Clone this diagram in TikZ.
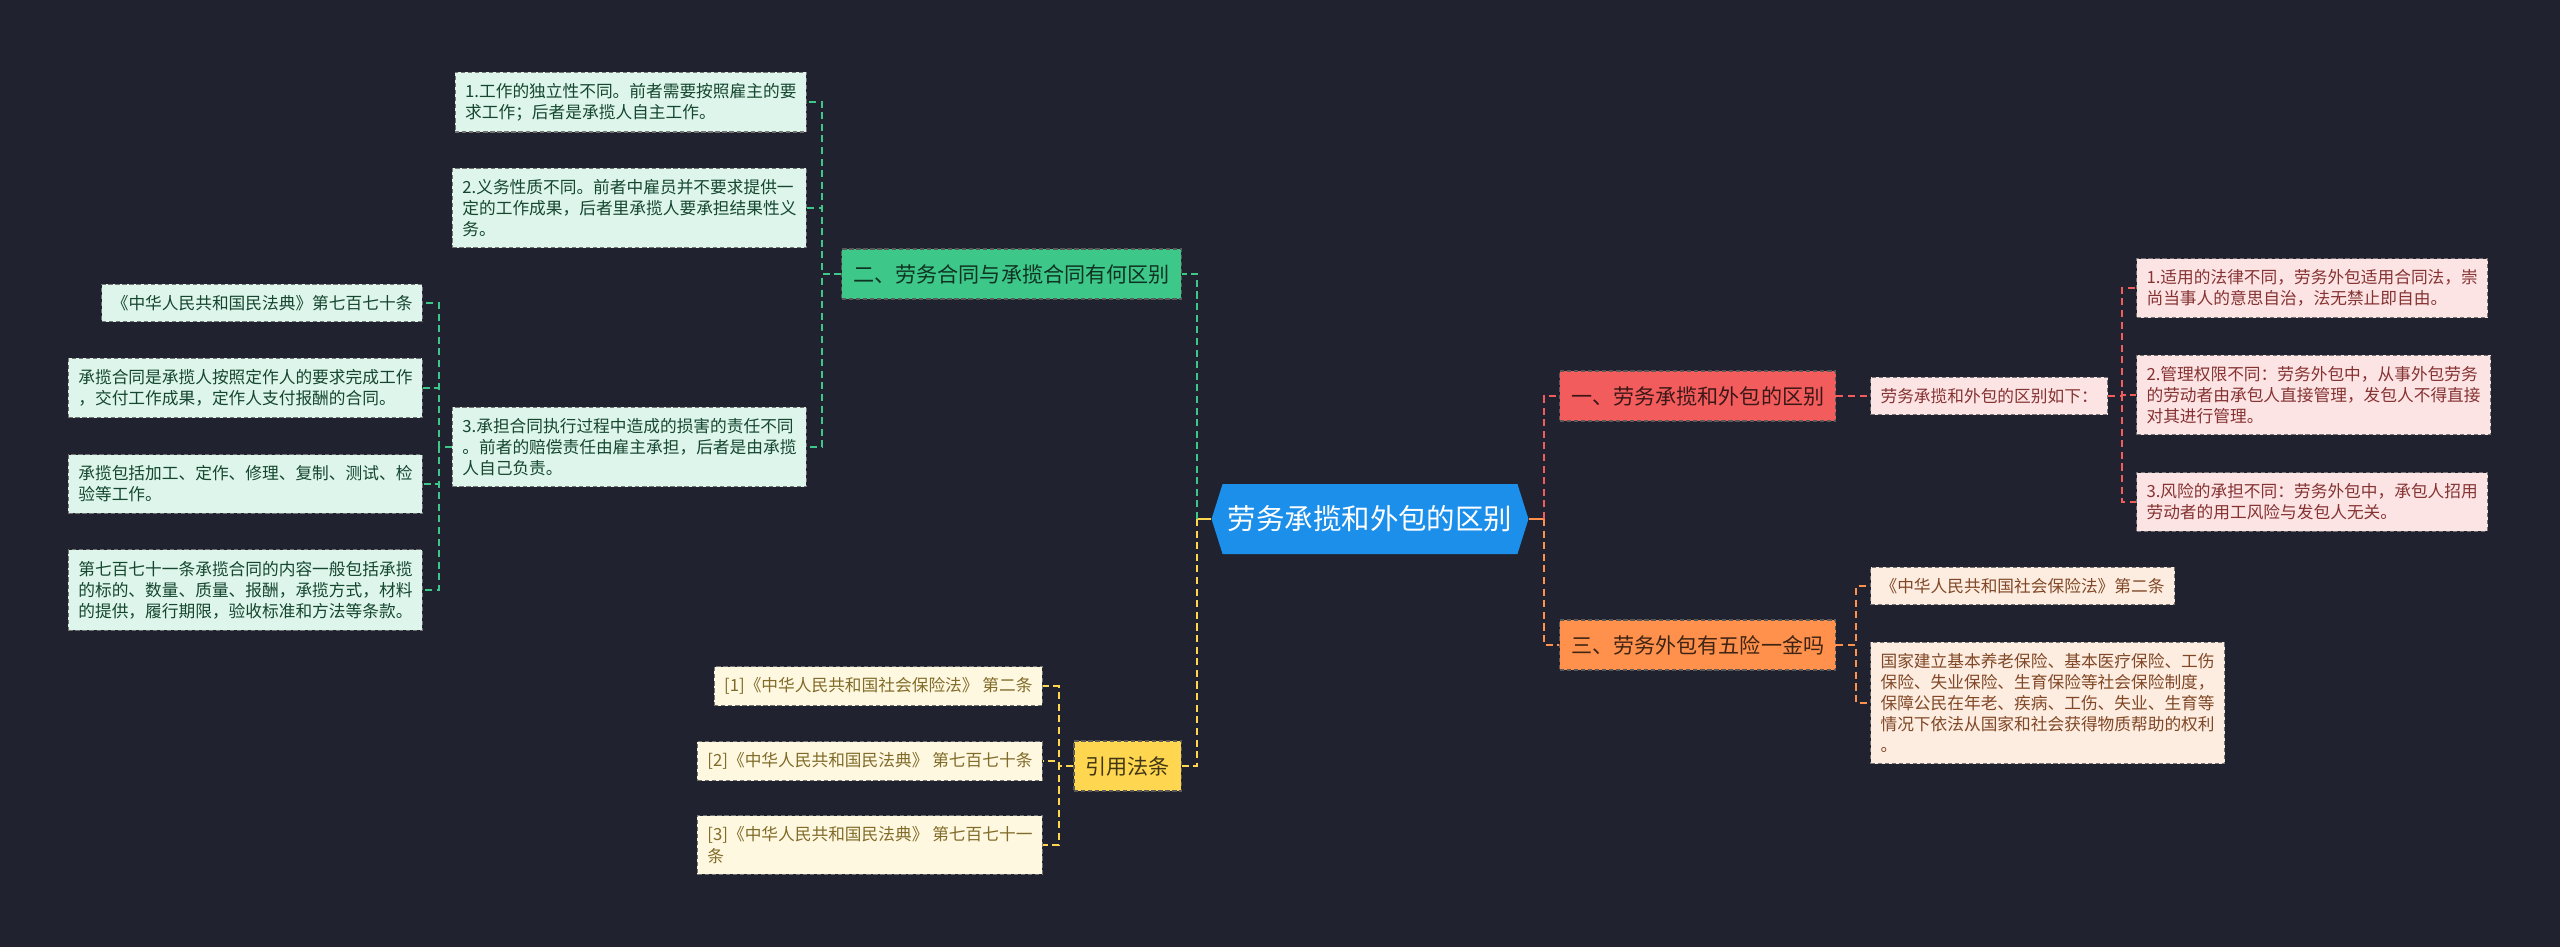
\documentclass[tikz,border=0pt]{standalone}
\usepackage{fontspec}
\setmainfont{Noto Sans CJK SC}
\usetikzlibrary{shapes.symbols}
\definecolor{MAP-BG}{RGB}{32, 35, 47}
\definecolor{MAP-BLUE}{RGB}{27, 143, 234}
\definecolor{MAP-GREEN}{RGB}{61, 199, 137}
\definecolor{MAP-RED}{RGB}{242, 92, 92}
\definecolor{MAP-ORANGE}{RGB}{255, 145, 77}
\definecolor{MAP-YELLOW}{RGB}{255, 214, 80}
\definecolor{MAP-GREEN-L}{RGB}{221, 245, 234}
\definecolor{MAP-RED-L}{RGB}{253, 228, 228}
\definecolor{MAP-ORANGE-L}{RGB}{253, 236, 224}
\definecolor{MAP-YELLOW-L}{RGB}{255, 248, 225}

\begin{document}
\begin{tikzpicture}[x=0.01cm, y=-0.01cm,
  link/.style={line width=0.55pt, dash pattern=on 2pt off 1.3pt},
  root/.style={signal, signal to=west and east, signal pointer angle=145,
    fill=MAP-BLUE, text=white, inner xsep=0.05cm, minimum height=0.7cm,
    font=\fontsize{8.1}{10}\selectfont},
  topic/.style={draw=black!65, line width=0.35pt, dash pattern=on 1.2pt off 0.8pt,
    inner xsep=0.115cm, minimum height=0.5cm, font=\fontsize{6.0}{8}\selectfont},
  leaf/.style={draw=black!55, line width=0.3pt, dash pattern=on 1.2pt off 0.8pt,
    align=left, inner xsep=0.1cm, inner ysep=0.11cm, font=\fontsize{4.75}{6}\selectfont},
  gleaf/.style={leaf, fill=MAP-GREEN-L, text=MAP-GREEN!35!black},
  rleaf/.style={leaf, fill=MAP-RED-L, text=MAP-RED!55!black},
  oleaf/.style={leaf, fill=MAP-ORANGE-L, text=MAP-ORANGE!50!black},
  yleaf/.style={leaf, fill=MAP-YELLOW-L, text=MAP-YELLOW!50!black},
]
  \fill[MAP-BG] (0,0) rectangle (2560,947);
  \useasboundingbox (0,0) rectangle (2560,947);

  % Centre
  \node[root] (root) at (1370,519) {劳务承揽和外包的区别};
  \coordinate (tL) at (1197,519);
  \coordinate (tR) at (1544,519);

  % Branch two (green)
  \node[topic, anchor=east, fill=MAP-GREEN, text=MAP-GREEN!25!black] (two) at (1182,274) {二、劳务合同与承揽合同有何区别};
  \coordinate (t2) at (822,274);
  \node[gleaf, anchor=east] (c1) at (807,102) {1.工作的独立性不同。前者需要按照雇主的要\\求工作；后者是承揽人自主工作。};
  \node[gleaf, anchor=east] (c2) at (807,208) {2.义务性质不同。前者中雇员并不要求提供一\\定的工作成果，后者里承揽人要承担结果性义\\务。};
  \node[gleaf, anchor=east] (c3) at (807,447) {3.承担合同执行过程中造成的损害的责任不同\\。前者的赔偿责任由雇主承担，后者是由承揽\\人自己负责。};
  \coordinate (t3) at (439,447);
  \node[gleaf, anchor=east] (d1) at (423,303) {《中华人民共和国民法典》第七百七十条};
  \node[gleaf, anchor=east] (d2) at (423,388) {承揽合同是承揽人按照定作人的要求完成工作\\，交付工作成果，定作人支付报酬的合同。};
  \node[gleaf, anchor=east] (d3) at (423,484) {承揽包括加工、定作、修理、复制、测试、检\\验等工作。};
  \node[gleaf, anchor=east] (d4) at (423,590) {第七百七十一条承揽合同的内容一般包括承揽\\的标的、数量、质量、报酬，承揽方式，材料\\的提供，履行期限，验收标准和方法等条款。};

  % Branch citations (yellow)
  \node[topic, anchor=east, fill=MAP-YELLOW, text=MAP-YELLOW!25!black] (cite) at (1182,766) {引用法条};
  \coordinate (tC) at (1059,766);
  \node[yleaf, anchor=east] (r1) at (1043,686) {[1]《中华人民共和国社会保险法》 第二条};
  \node[yleaf, anchor=east] (r2) at (1043,761) {[2]《中华人民共和国民法典》 第七百七十条};
  \node[yleaf, anchor=east] (r3) at (1043,845) {[3]《中华人民共和国民法典》 第七百七十一\\条};

  % Branch one (red)
  \node[topic, anchor=west, fill=MAP-RED, text=MAP-RED!25!black] (one) at (1559,396) {一、劳务承揽和外包的区别};
  \node[rleaf, anchor=west] (p0) at (1870,396) {劳务承揽和外包的区别如下：};
  \coordinate (tP) at (2122,396);
  \node[rleaf, anchor=west] (f1) at (2136,288) {1.适用的法律不同，劳务外包适用合同法，崇\\尚当事人的意思自治，法无禁止即自由。};
  \node[rleaf, anchor=west] (f2) at (2136,395) {2.管理权限不同：劳务外包中，从事外包劳务\\的劳动者由承包人直接管理，发包人不得直接\\对其进行管理。};
  \node[rleaf, anchor=west] (f3) at (2136,502) {3.风险的承担不同：劳务外包中，承包人招用\\劳动者的用工风险与发包人无关。};

  % Branch three (orange)
  \node[topic, anchor=west, fill=MAP-ORANGE, text=MAP-ORANGE!25!black] (three) at (1559,645) {三、劳务外包有五险一金吗};
  \coordinate (t4) at (1856,645);
  \node[oleaf, anchor=west] (e1) at (1870,586) {《中华人民共和国社会保险法》第二条};
  \node[oleaf, anchor=west] (e2) at (1870,703) {国家建立基本养老保险、基本医疗保险、工伤\\保险、失业保险、生育保险等社会保险制度，\\保障公民在年老、疾病、工伤、失业、生育等\\情况下依法从国家和社会获得物质帮助的权利\\。};

  % Connectors
  \draw[MAP-YELLOW, line width=0.55pt] (root.west) -- (tL);
  \draw[MAP-ORANGE, line width=0.55pt] (root.east) -- (tR);
  \draw[link, MAP-GREEN] (tL) |- (two.east);
  \draw[link, MAP-YELLOW] (tL) |- (cite.east);
  \draw[link, MAP-RED] (tR) |- (one.west);
  \draw[link, MAP-ORANGE] (tR) |- (three.west);
  \foreach \c in {c1,c2,c3}
    \draw[link, MAP-GREEN] (two.west) -- (t2) |- (\c.east);
  \foreach \d in {d1,d2,d3,d4}
    \draw[link, MAP-GREEN] (c3.west) -- (t3) |- (\d.east);
  \foreach \r in {r1,r2,r3}
    \draw[link, MAP-YELLOW] (cite.west) -- (tC) |- (\r.east);
  \draw[link, MAP-RED] (one.east) -- (p0.west);
  \foreach \f in {f1,f2,f3}
    \draw[link, MAP-RED] (p0.east) -- (tP) |- (\f.west);
  \foreach \e in {e1,e2}
    \draw[link, MAP-ORANGE] (three.east) -- (t4) |- (\e.west);
\end{tikzpicture}
\end{document}
